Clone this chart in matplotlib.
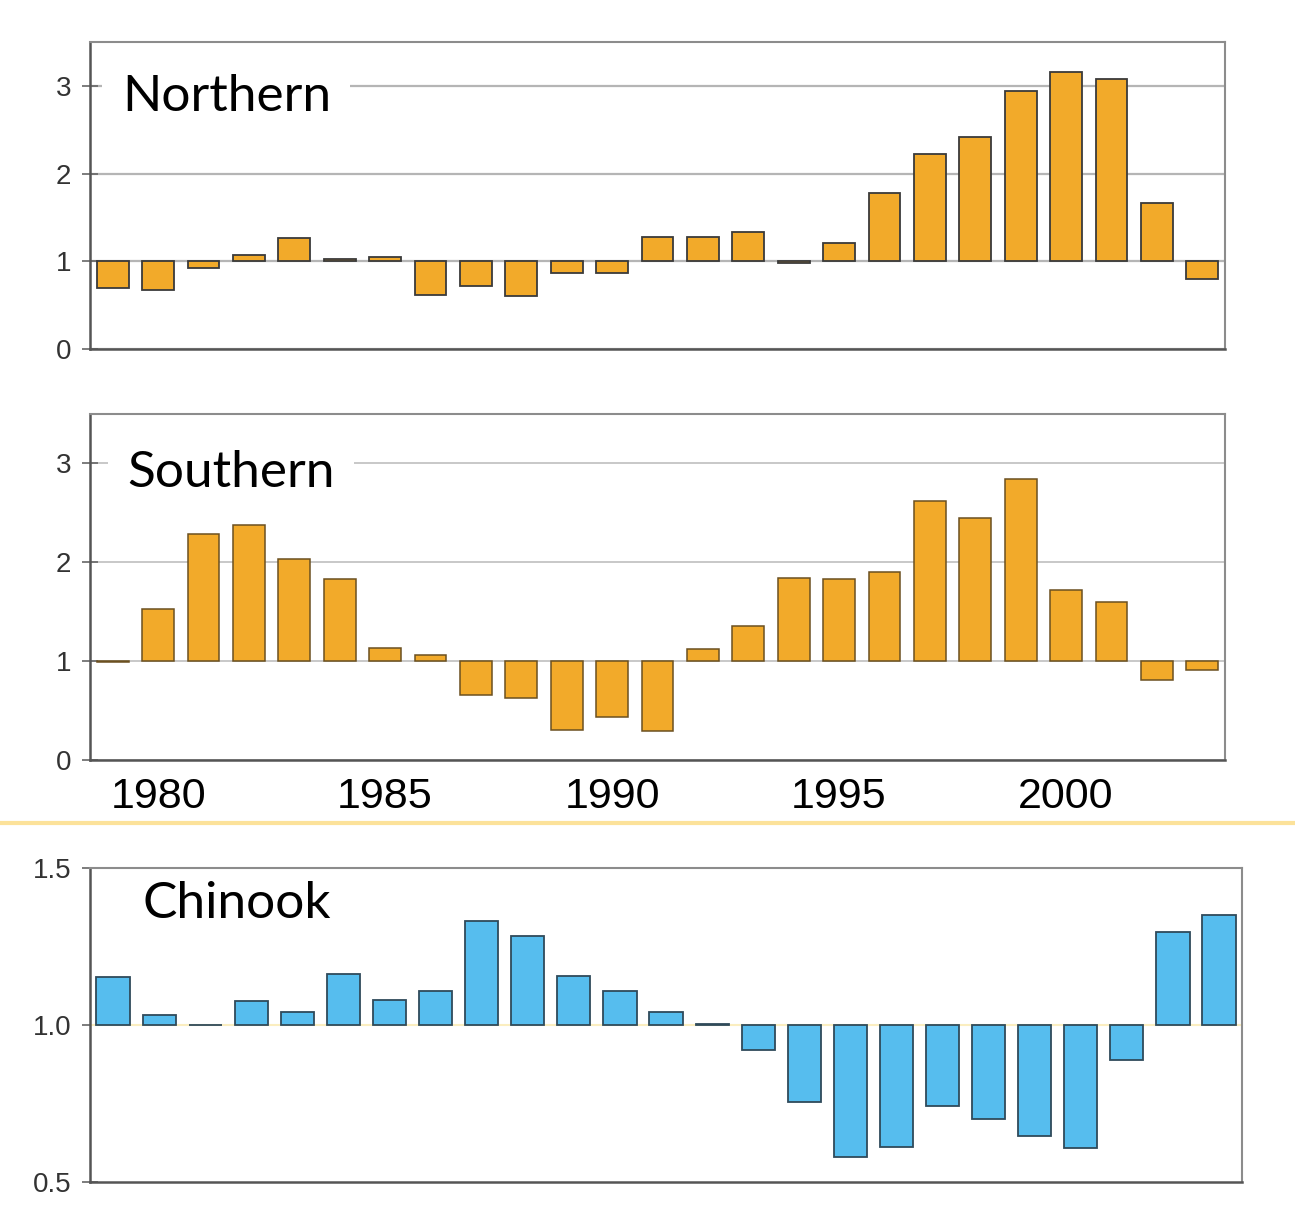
import matplotlib.pyplot as plt
from matplotlib.lines import Line2D

years = list(range(1979, 2004))

northern = [0.69, 0.67, 0.92, 1.07, 1.27, 1.03, 1.05, 0.61, 0.72, 0.60, 0.87, 0.87, 1.28,
            1.28, 1.33, 0.98, 1.21, 1.78, 2.22, 2.42, 2.94, 3.16, 3.08, 1.67, 0.80]
southern = [0.99, 1.53, 2.29, 2.38, 2.03, 1.83, 1.13, 1.06, 0.66, 0.63, 0.30, 0.44, 0.29,
            1.12, 1.36, 1.84, 1.83, 1.90, 2.62, 2.45, 2.84, 1.72, 1.60, 0.81, 0.91]
chinook = [1.154, 1.032, 0.999, 1.075, 1.041, 1.161, 1.080, 1.109, 1.331, 1.282, 1.157, 1.109, 1.040,
           1.004, 0.920, 0.756, 0.579, 0.613, 0.743, 0.700, 0.645, 0.608, 0.887, 1.295, 1.351]

year_ticks = [1980, 1985, 1990, 1995, 2000]

ORANGE = '#F2AA2A'
BLUE = '#56BDEE'
EDGE = '#3a3a3a'
FRAME = '#8c8c8c'

plt.rcParams['font.family'] = ['Liberation Sans', 'DejaVu Sans']

fig = plt.figure(figsize=(12.95, 12.25), dpi=100)


def style_axes(ax, ymin, ymax, yticks, ylabels):
    ax.set_xlim(1978.5, 2003.5)
    ax.set_ylim(ymin, ymax)
    ax.set_yticks(yticks)
    ax.set_yticklabels(ylabels)
    for side in ['top', 'right']:
        ax.spines[side].set_color(FRAME)
        ax.spines[side].set_linewidth(1.5)
    for side in ['left', 'bottom']:
        ax.spines[side].set_color('#555555')
        ax.spines[side].set_linewidth(1.8)
    ax.tick_params(axis='y', direction='inout', length=11, width=1.2, color='#666666',
                   labelsize=20, labelcolor='#333333', pad=8)
    ax.set_axisbelow(True)


def panel_title(ax, text, x, y, masked=True):
    box = dict(facecolor='white', edgecolor='none', pad=14) if masked else None
    ax.text(x, y, text, transform=ax.transAxes, family=['Lato', 'DejaVu Sans'],
            fontsize=37, va='center', ha='left', color='black', zorder=5, bbox=box)


# Northern
ax1 = fig.add_axes([0.0695, 0.7151, 0.8764, 0.2506])
ax1.bar(years, [v - 1 for v in northern], bottom=1, width=0.7,
        color=ORANGE, edgecolor=EDGE, linewidth=1.3, zorder=3)
style_axes(ax1, 0, 3.5, [0, 1, 2, 3], ['0', '1', '2', '3'])
ax1.yaxis.grid(True, color='#b5b5b5', linewidth=1.6)
ax1.set_xticks([])
panel_title(ax1, 'Northern', 0.028, 0.82)

# Southern
ax2 = fig.add_axes([0.0695, 0.3796, 0.8764, 0.2824])
ax2.bar(years, [v - 1 for v in southern], bottom=1, width=0.7,
        color=ORANGE, edgecolor='#6b5020', linewidth=1.1, zorder=3)
style_axes(ax2, 0, 3.5, [0, 1, 2, 3], ['0', '1', '2', '3'])
ax2.yaxis.grid(True, color='#c8c8c8', linewidth=1.4)
ax2.set_xticks(year_ticks)
ax2.set_xticklabels([str(y) for y in year_ticks])
ax2.tick_params(axis='x', length=0, labelsize=31, pad=12)
panel_title(ax2, 'Southern', 0.033, 0.83)

# Chinook
ax3 = fig.add_axes([0.0695, 0.0351, 0.8896, 0.2563])
ax3.bar(years, [v - 1 for v in chinook], bottom=1, width=0.72,
        color=BLUE, edgecolor='#2f4a5a', linewidth=1.3, zorder=3)
style_axes(ax3, 0.5, 1.5, [0.5, 1.0, 1.5], ['0.5', '1.0', '1.5'])
ax3.axhline(1.0, color='#fbeec0', linewidth=1.5, zorder=2)
ax3.set_xticks([])
panel_title(ax3, 'Chinook', 0.046, 0.885, masked=False)

# divider between the sockeye and chinook panels
fig.add_artist(Line2D([0, 1], [0.328, 0.328], transform=fig.transFigure,
                      color='#FCE29A', linewidth=3))

fig.savefig('out.png', dpi=100)
